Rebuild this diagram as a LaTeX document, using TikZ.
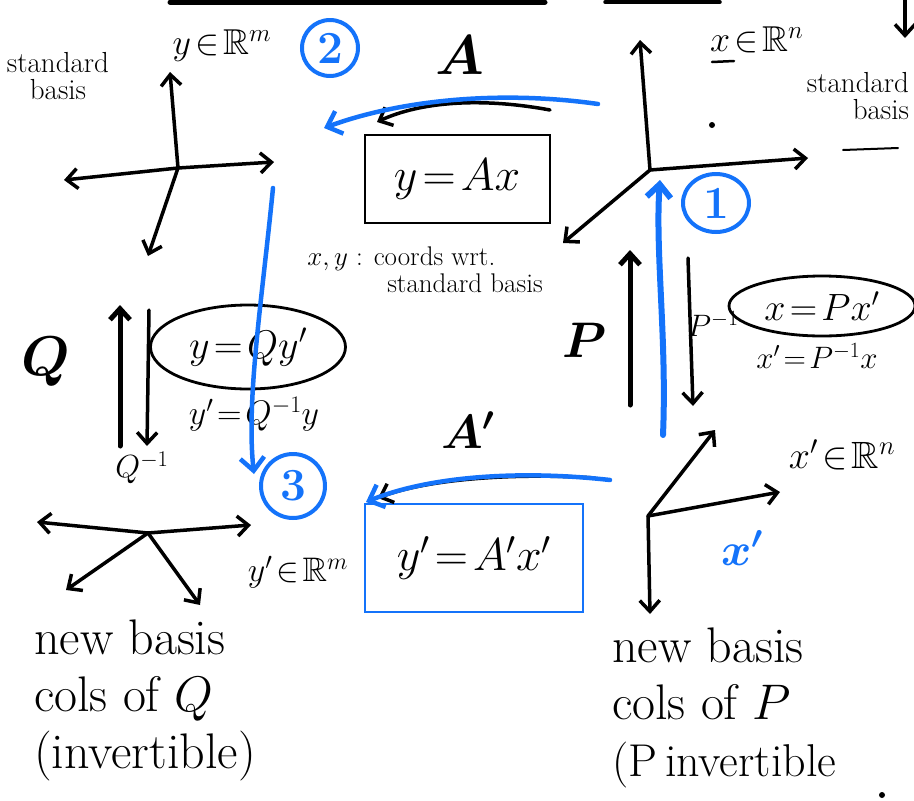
\RequirePackage{fix-cm}
\documentclass[tikz,border=0pt]{standalone}
\usepackage{amssymb}
\usetikzlibrary{arrows.meta,shapes.geometric}
\definecolor{hblue}{RGB}{20,115,250}
\begin{document}
\begin{tikzpicture}[x=1pt,y=-1pt,
  ink/.style={line width=3.5pt,line cap=round,line join=round},
  thin ink/.style={line width=2.5pt,line cap=round,line join=round},
  bink/.style={ink,line width=4.5pt,draw=hblue},
  tip/.style={-{Straight Barb[length=11pt,width=20pt]}},
  btip/.style={-{Straight Barb[length=13pt,width=24pt]}},
  lbl/.style={inner sep=0pt,font=\fontsize{#1}{#1}\selectfont\boldmath},
  lbl/.default=36,
  nlbl/.style={inner sep=0pt,font=\fontsize{#1}{#1}\selectfont},
  numc/.style={circle,draw=hblue,line width=4pt,text=hblue,minimum size=56pt,inner sep=0pt,font=\fontsize{46}{46}\selectfont\bfseries},
  words/.style={inner sep=0pt,align=left,anchor=north west,font=\fontsize{50}{57}\selectfont}
]
\useasboundingbox (0,0) rectangle (914,801);

% cropped strokes at the top edge
\coordinate (t1) at (170,2); \coordinate (t2) at (545,2);
\coordinate (t3) at (605,2); \coordinate (t4) at (720,2);
\coordinate (t5) at (905,0); \coordinate (t6) at (905,38);
\draw[ink,line width=5pt] (t1) -- (t2);
\draw[ink] (t3) -- (t4);
\draw[ink,tip] (t5) -- (t6);

% ---------- top-left: standard basis of R^m
\coordinate (o1) at (178,168);
\coordinate (o1u) at (170,72);
\coordinate (o1r) at (274,162);
\coordinate (o1l) at (64,180);
\coordinate (o1d) at (148,256);
\draw[ink,tip] (o1) -- (o1u);
\draw[ink,tip] (o1) -- (o1r);
\draw[ink,tip] (o1) -- (o1l);
\draw[ink,tip] (o1) -- (o1d);
\node[nlbl=29,align=center] (sb1) at (58,76) {standard\\[-2pt]basis};
\node[nlbl=36] (ym) at (222,46) {$y\!\in\!\mathbb{R}^m$};

% ---------- top-right: standard basis of R^n
\coordinate (o2) at (650,170);
\coordinate (o2u) at (640,40);
\coordinate (o2r) at (808,158);
\coordinate (o2d) at (563,243);
\draw[ink,tip] (o2) -- (o2u);
\draw[ink,tip] (o2) -- (o2r);
\draw[ink,tip] (o2) -- (o2d);
\node[nlbl=36,anchor=west] (xn) at (710,40) {$x\!\in\!\mathbb{R}^n$};
\coordinate (ul1) at (712,62); \coordinate (ul2) at (734,61);
\draw[thin ink] (ul1) -- (ul2);
\coordinate (dot1) at (712,125);
\fill (dot1) circle (3pt);
\node[nlbl=29,align=right] (sb2) at (858,96) {standard\\[-2pt]basis};
\coordinate (ul3) at (843,150); \coordinate (ul4) at (898,148);
\draw[line width=2pt,line cap=round] (ul3) -- (ul4);

% ---------- top middle: A
\node[lbl=56] (A) at (460,55) {$A$};
\node[draw,line width=2pt,minimum width=185pt,minimum height=88pt,inner sep=0pt,font=\fontsize{46}{46}\selectfont] (box1) at (457,179) {$y\!=\!Ax$};
\node[nlbl=27,align=left] (wrt) at (425,270) {$x,y$ : coords wrt.\\[0pt]\hspace*{80pt}standard basis};

\coordinate (a1s) at (550,110); \coordinate (a1e) at (377,122);
\draw[ink,tip] (a1s) .. controls (480,97) and (420,102) .. (a1e);
\coordinate (b2s) at (598,104); \coordinate (b2e) at (324,128);
\draw[bink,btip] (b2s) .. controls (500,90) and (400,100) .. (b2e);
\node[numc] (c2) at (330,48) {2};

% ---------- left column: Q
\node[lbl=56] (Q) at (46,362) {$Q$};
\coordinate (qu1) at (120,446); \coordinate (qu2) at (120,305);
\draw[ink,line width=5pt,tip] (qu1) -- (qu2);
\coordinate (qd1) at (149,310); \coordinate (qd2) at (147,446);
\draw[ink,tip] (qd1) -- (qd2);
\node[nlbl=32] (Qinv) at (142,468) {$Q^{-1}$};
\node[ellipse,draw,line width=2.8pt,minimum width=195pt,minimum height=84pt,inner sep=0pt,font=\fontsize{40}{40}\selectfont] (ellQ) at (248,347) {$y\!=\!Qy'$};
\node[nlbl=34] (yinv) at (254,414) {$y'\!=\!Q^{-1}y$};

% blue arrow 3
\coordinate (b3s) at (273,188); \coordinate (b3e) at (254,474);
\draw[bink,btip] (b3s) .. controls (262,300) and (246,400) .. (b3e);
\node[numc,minimum size=64pt] (c3) at (293,486) {3};

% ---------- right column: P
\node[lbl=50] (P) at (585,340) {$P$};
\coordinate (pu1) at (630,405); \coordinate (pu2) at (630,250);
\draw[ink,line width=5pt,tip] (pu1) -- (pu2);
\coordinate (pd1) at (688,258); \coordinate (pd2) at (693,406);
\draw[ink,tip] (pd1) -- (pd2);
\node[nlbl=31] (Pinv) at (713,324) {$P^{-1}$};
\node[ellipse,draw,line width=2.8pt,minimum width=186pt,minimum height=60pt,inner sep=0pt,font=\fontsize{38}{38}\selectfont] (ellP) at (822,306) {$x\!=\!Px'$};
\node[nlbl=31] (xinv) at (817,356) {$x'\!=\!P^{-1}x$};

% blue arrow 1
\coordinate (b1s) at (663,435); \coordinate (b1e) at (660,180);
\draw[bink,line width=6pt,btip] (b1s) .. controls (667,340) and (655,250) .. (b1e);
\node[numc,minimum width=66pt,minimum height=58pt,ellipse] (c1) at (716,203) {1};

% ---------- bottom middle: A'
\node[lbl=48] (Ap) at (468,430) {$A'$};
\node[draw=hblue,line width=2pt,minimum width=218pt,minimum height=108pt,inner sep=0pt,font=\fontsize{46}{46}\selectfont] (box2) at (474,558) {$y'\!=\!A'x'$};
\coordinate (a2s) at (595,478); \coordinate (a2e) at (378,498);
\draw[ink,tip] (a2s) .. controls (520,473) and (430,478) .. (a2e);
\coordinate (b4s) at (610,480); \coordinate (b4e) at (366,502);
\draw[bink,btip] (b4s) .. controls (520,470) and (430,476) .. (b4e);

% ---------- bottom-left: new basis of R^m
\coordinate (o3) at (148,533);
\coordinate (o3l) at (37,522);
\coordinate (o3r) at (251,525);
\coordinate (o3d) at (66,590);
\coordinate (o3e) at (200,605);
\draw[ink,tip] (o3) -- (o3l);
\draw[ink,tip] (o3) -- (o3r);
\draw[ink,tip] (o3) -- (o3d);
\draw[ink,tip] (o3) -- (o3e);
\node[nlbl=34] (ypm) at (298,572) {$y'\!\in\!\mathbb{R}^m$};
\node[words] (nb1) at (34,620) {new basis\\cols of $Q$\\(invertible)};

% ---------- bottom-right: new basis of R^n
\coordinate (o4) at (648,516);
\coordinate (o4u) at (715,430);
\coordinate (o4r) at (780,492);
\coordinate (o4d) at (650,614);
\draw[ink,tip] (o4) -- (o4u);
\draw[ink,tip] (o4) -- (o4r);
\draw[ink,tip] (o4) -- (o4d);
\node[nlbl=38] (xpn) at (842,455) {$x'\!\in\!\mathbb{R}^n$};
\node[lbl=46,text=hblue] (xp) at (742,548) {$x'$};
\node[words] (nb2) at (612,628) {new basis\\cols of $P$\\{\fontsize{46}{57}\selectfont(P\,invertible}};
\coordinate (dot2) at (882,795);
\fill (dot2) circle (3pt);
\end{tikzpicture}
\end{document}
